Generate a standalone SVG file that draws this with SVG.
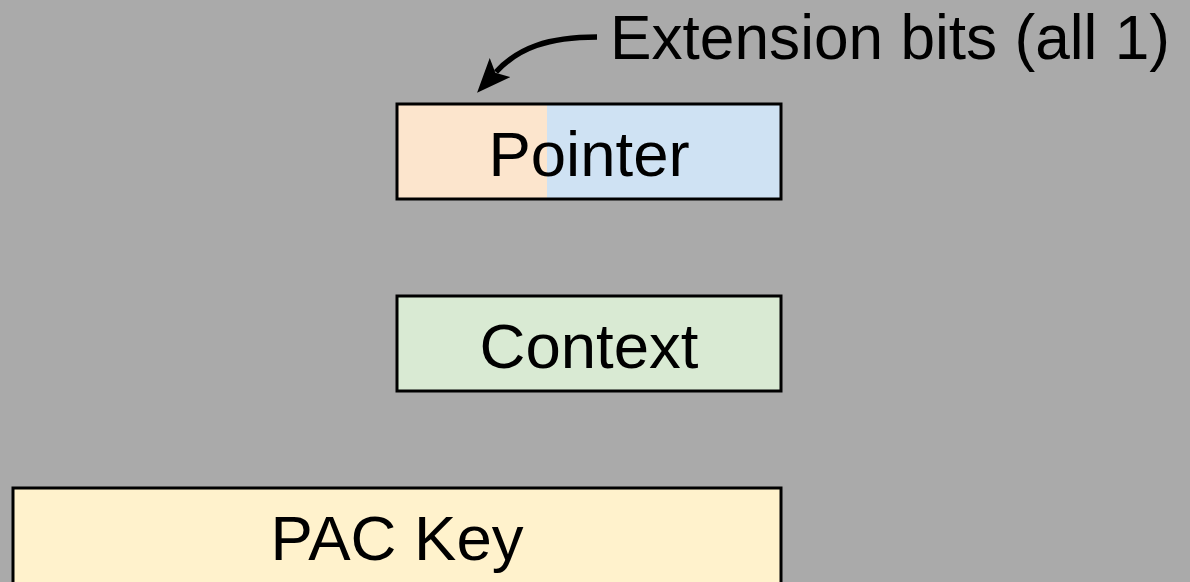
<svg xmlns="http://www.w3.org/2000/svg" width="1190" height="582" viewBox="0 0 1190 582">
  <style>
    .box { stroke: #000; stroke-width: 3; }
    .lbl { font-family: "Liberation Sans", Arial, sans-serif; font-size: 63.5px; fill: #000; }
  </style>
  <defs>
    <marker id="head" viewBox="0 0 34 28" refX="6" refY="14" markerWidth="34" markerHeight="28" markerUnits="userSpaceOnUse" orient="auto">
      <path d="M0,0 L34,14 L0,28 L7,14 Z" fill="#000"/>
    </marker>
  </defs>
  <rect width="1190" height="582" fill="#aaaaaa"/>

  <g id="pointer">
    <rect x="397" y="104" width="150" height="95" fill="#fce5cd"/>
    <rect x="547" y="104" width="234" height="95" fill="#cfe2f3"/>
    <rect x="397" y="104" width="384" height="95" fill="none" class="box"/>
    <text class="lbl" x="589" y="176" text-anchor="middle">Pointer</text>
  </g>

  <g id="context">
    <rect x="397" y="296" width="384" height="95" fill="#d9ead3" class="box"/>
    <text class="lbl" x="589" y="368" text-anchor="middle">Context</text>
  </g>

  <g id="pac-key">
    <rect x="13" y="488" width="768" height="110" fill="#fff2cc" class="box"/>
    <text class="lbl" x="397" y="560" text-anchor="middle">PAC Key</text>
  </g>

  <g id="extension-label">
    <text class="lbl" x="610" y="59" textLength="560" lengthAdjust="spacingAndGlyphs">Extension bits (all 1)</text>
  </g>

  <g id="connectors">
    <path d="M597,37 C548,37 518,48 496,72" fill="none" stroke="#000" stroke-width="5.5" marker-end="url(#head)"/>
  </g>
</svg>
